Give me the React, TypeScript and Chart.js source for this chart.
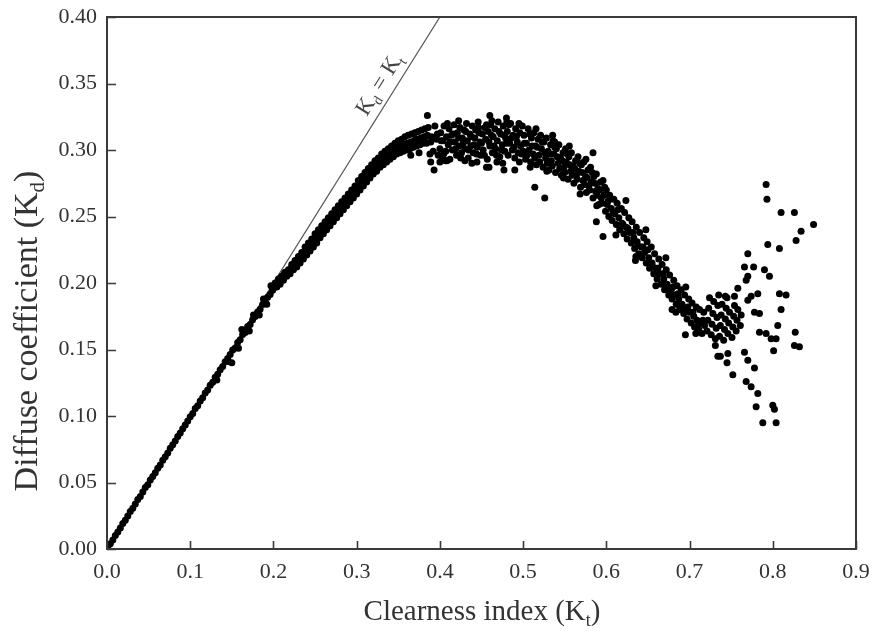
import React, { useEffect, useRef } from "react";
import { Chart, registerables } from "chart.js";

Chart.register(...registerables);

// ---------- data (Kt, Kd) ----------
const xTickValues = [0, 0.1, 0.2, 0.3, 0.4, 0.5, 0.6, 0.7, 0.8, 0.9];
const yTickValues = [0, 0.05, 0.1, 0.15, 0.2, 0.25, 0.3, 0.35, 0.4];
const identityLine: [number, number][] = [[0, 0], [0.4, 0.4]];

const bandLow: [number, number][] = [
  [0.001, 0.001], [0.004, 0.004], [0.007, 0.0068], [0.01, 0.0102], [0.013, 0.0128], [0.016, 0.0158],
  [0.019, 0.0192], [0.022, 0.0216], [0.025, 0.0248], [0.028, 0.0282], [0.031, 0.0306], [0.034, 0.0338],
  [0.037, 0.0372], [0.04, 0.0394], [0.043, 0.0428], [0.046, 0.0462], [0.049, 0.0484], [0.052, 0.0518],
  [0.055, 0.0546], [0.058, 0.0574], [0.061, 0.0608], [0.064, 0.0632], [0.067, 0.0668], [0.07, 0.0694],
  [0.073, 0.0722], [0.076, 0.0758], [0.079, 0.0784], [0.082, 0.0812], [0.085, 0.0846], [0.088, 0.0872],
  [0.091, 0.0904], [0.094, 0.0932], [0.097, 0.0962], [0.1, 0.0994], [0.103, 0.1018], [0.106, 0.1056],
  [0.109, 0.1078], [0.112, 0.1112], [0.115, 0.1138], [0.118, 0.1172], [0.121, 0.1196], [0.124, 0.1232],
  [0.127, 0.1254], [0.13, 0.1292], [0.133, 0.1314], [0.136, 0.1348], [0.139, 0.1372], [0.142, 0.1408],
  [0.145, 0.1432], [0.148, 0.1462], [0.151, 0.1496], [0.154, 0.1512], [0.157, 0.1552], [0.16, 0.1574],
  [0.163, 0.1612], [0.166, 0.1628], [0.169, 0.1672], [0.172, 0.1688], [0.175, 0.1724], [0.178, 0.1748],
  [0.181, 0.1782], [0.184, 0.1802], [0.187, 0.1838], [0.19, 0.1858], [0.193, 0.1892], [0.196, 0.1914],
  [0.199, 0.1946], [0.132, 0.127], [0.146, 0.141], [0.15, 0.14], [0.158, 0.151], [0.162, 0.165],
  [0.171, 0.164], [0.176, 0.176], [0.183, 0.176], [0.188, 0.188], [0.192, 0.184], [0.197, 0.198],
];

const bandRise: [number, number][] = [
  [0.2, 0.196], [0.202, 0.2], [0.204, 0.197], [0.206, 0.203], [0.208, 0.199], [0.21, 0.205],
  [0.212, 0.202], [0.214, 0.208], [0.216, 0.205], [0.218, 0.21], [0.22, 0.207], [0.222, 0.214],
  [0.224, 0.21], [0.226, 0.217], [0.228, 0.212], [0.23, 0.22], [0.232, 0.215], [0.234, 0.223],
  [0.236, 0.218], [0.238, 0.227], [0.24, 0.221], [0.242, 0.23], [0.244, 0.224], [0.246, 0.233],
  [0.248, 0.227], [0.25, 0.237], [0.252, 0.23], [0.254, 0.24], [0.256, 0.234], [0.258, 0.243],
  [0.26, 0.237], [0.262, 0.246], [0.264, 0.24], [0.266, 0.249], [0.268, 0.243], [0.27, 0.252],
  [0.272, 0.246], [0.274, 0.255], [0.276, 0.249], [0.278, 0.258], [0.28, 0.252], [0.282, 0.261],
  [0.284, 0.255], [0.286, 0.264], [0.288, 0.258], [0.29, 0.267], [0.292, 0.261], [0.294, 0.27],
  [0.296, 0.264], [0.298, 0.273], [0.3, 0.267], [0.302, 0.277], [0.304, 0.27], [0.306, 0.28],
  [0.308, 0.273], [0.31, 0.283], [0.312, 0.276], [0.314, 0.286], [0.316, 0.279], [0.318, 0.289],
  [0.32, 0.282], [0.322, 0.292], [0.324, 0.284], [0.326, 0.294], [0.328, 0.287], [0.33, 0.297],
  [0.332, 0.289], [0.334, 0.299], [0.336, 0.291], [0.338, 0.301], [0.34, 0.293], [0.342, 0.303],
  [0.344, 0.295], [0.346, 0.305], [0.348, 0.297], [0.35, 0.307], [0.352, 0.298], [0.354, 0.308],
  [0.356, 0.299], [0.358, 0.31], [0.36, 0.3], [0.362, 0.311], [0.364, 0.301], [0.366, 0.312],
  [0.368, 0.302], [0.37, 0.313], [0.372, 0.303], [0.374, 0.314], [0.376, 0.304], [0.378, 0.315],
  [0.38, 0.305], [0.382, 0.316], [0.384, 0.305], [0.386, 0.317], [0.388, 0.297], [0.39, 0.31],
  [0.392, 0.299], [0.394, 0.318], [0.396, 0.308], [0.398, 0.296], [0.247, 0.23], [0.263, 0.243],
  [0.279, 0.255], [0.295, 0.267], [0.311, 0.279], [0.327, 0.29], [0.343, 0.298], [0.357, 0.304],
  [0.371, 0.308], [0.383, 0.31], [0.365, 0.296], [0.375, 0.298],
];

const riseFill: [number, number][] = [
  [0.201, 0.198], [0.205, 0.201], [0.209, 0.204], [0.213, 0.207], [0.217, 0.208], [0.221, 0.211],
  [0.225, 0.214], [0.229, 0.217], [0.233, 0.219], [0.237, 0.223], [0.241, 0.226], [0.245, 0.229],
  [0.249, 0.232], [0.253, 0.235], [0.257, 0.239], [0.261, 0.242], [0.265, 0.245], [0.269, 0.248],
  [0.273, 0.251], [0.277, 0.254], [0.281, 0.257], [0.285, 0.26], [0.289, 0.263], [0.293, 0.266],
  [0.297, 0.269], [0.301, 0.272], [0.305, 0.275], [0.309, 0.278], [0.313, 0.281], [0.317, 0.284],
  [0.321, 0.287], [0.325, 0.289], [0.329, 0.292], [0.333, 0.294], [0.337, 0.296], [0.341, 0.298],
  [0.345, 0.3], [0.349, 0.302], [0.353, 0.303], [0.361, 0.305], [0.365, 0.306], [0.369, 0.307],
  [0.373, 0.308], [0.377, 0.309], [0.381, 0.31], [0.385, 0.311], [0.389, 0.306], [0.393, 0.309],
  [0.397, 0.312],
];

const bandPeak: [number, number][] = [
  [0.4, 0.301], [0.401, 0.313], [0.403, 0.295], [0.404, 0.307], [0.405, 0.318], [0.407, 0.299],
  [0.408, 0.31], [0.41, 0.304], [0.411, 0.316], [0.412, 0.293], [0.414, 0.311], [0.415, 0.3],
  [0.417, 0.319], [0.418, 0.306], [0.42, 0.296], [0.421, 0.313], [0.423, 0.303], [0.424, 0.317],
  [0.426, 0.298], [0.427, 0.309], [0.429, 0.315], [0.43, 0.301], [0.432, 0.32], [0.433, 0.307],
  [0.434, 0.294], [0.436, 0.312], [0.437, 0.303], [0.439, 0.318], [0.44, 0.298], [0.442, 0.309],
  [0.443, 0.315], [0.445, 0.302], [0.446, 0.321], [0.448, 0.306], [0.449, 0.296], [0.451, 0.312],
  [0.452, 0.3], [0.454, 0.317], [0.455, 0.308], [0.457, 0.293], [0.458, 0.314], [0.46, 0.303],
  [0.461, 0.319], [0.463, 0.298], [0.464, 0.31], [0.466, 0.316], [0.467, 0.301], [0.469, 0.307],
  [0.47, 0.321], [0.472, 0.295], [0.473, 0.312], [0.475, 0.304], [0.476, 0.318], [0.478, 0.299],
  [0.479, 0.309], [0.481, 0.314], [0.482, 0.296], [0.484, 0.305], [0.485, 0.32], [0.487, 0.3],
  [0.488, 0.311], [0.49, 0.294], [0.491, 0.316], [0.493, 0.306], [0.494, 0.298], [0.496, 0.313],
  [0.497, 0.303], [0.499, 0.318], [0.4065, 0.292], [0.4445, 0.291], [0.4755, 0.29], [0.4225, 0.322],
  [0.4955, 0.291],
];

const peakFill: [number, number][] = [
  [0.4015, 0.307], [0.4045, 0.297], [0.409, 0.32], [0.4125, 0.306], [0.416, 0.312], [0.419, 0.301],
  [0.4225, 0.309], [0.425, 0.294], [0.428, 0.305], [0.431, 0.314], [0.4345, 0.3], [0.438, 0.31],
  [0.441, 0.304], [0.444, 0.297], [0.447, 0.313], [0.45, 0.305], [0.4535, 0.296], [0.456, 0.319],
  [0.459, 0.306], [0.462, 0.311], [0.465, 0.303], [0.468, 0.296], [0.471, 0.314], [0.474, 0.3],
  [0.477, 0.311], [0.48, 0.305], [0.483, 0.319], [0.486, 0.309], [0.489, 0.302], [0.492, 0.31],
  [0.495, 0.32], [0.498, 0.297], [0.4085, 0.292], [0.4385, 0.29], [0.4685, 0.291], [0.4465, 0.317],
  [0.4625, 0.322], [0.4805, 0.321],
];

const bandFall: [number, number][] = [
  [0.5, 0.299], [0.501, 0.311], [0.503, 0.293], [0.504, 0.305], [0.506, 0.316], [0.507, 0.3],
  [0.509, 0.291], [0.51, 0.309], [0.512, 0.297], [0.513, 0.313], [0.515, 0.303], [0.516, 0.289],
  [0.518, 0.308], [0.519, 0.296], [0.521, 0.311], [0.522, 0.301], [0.524, 0.287], [0.525, 0.306],
  [0.527, 0.294], [0.528, 0.309], [0.53, 0.299], [0.531, 0.285], [0.533, 0.304], [0.534, 0.292],
  [0.536, 0.307], [0.537, 0.297], [0.539, 0.283], [0.54, 0.301], [0.542, 0.29], [0.543, 0.304],
  [0.545, 0.294], [0.546, 0.281], [0.548, 0.298], [0.549, 0.287], [0.551, 0.301], [0.552, 0.291],
  [0.554, 0.278], [0.555, 0.295], [0.557, 0.284], [0.558, 0.298], [0.56, 0.288], [0.561, 0.275],
  [0.563, 0.292], [0.564, 0.281], [0.566, 0.295], [0.567, 0.284], [0.569, 0.272], [0.57, 0.289],
  [0.572, 0.277], [0.573, 0.291], [0.575, 0.28], [0.576, 0.268], [0.578, 0.285], [0.579, 0.273],
  [0.581, 0.287], [0.582, 0.276], [0.584, 0.264], [0.585, 0.28], [0.587, 0.269], [0.588, 0.282],
  [0.59, 0.271], [0.591, 0.259], [0.593, 0.276], [0.594, 0.264], [0.596, 0.277], [0.597, 0.266],
  [0.599, 0.254],
];

const fallFill: [number, number][] = [
  [0.5015, 0.305], [0.5045, 0.296], [0.508, 0.312], [0.511, 0.303], [0.514, 0.294], [0.517, 0.302],
  [0.52, 0.291], [0.523, 0.306], [0.526, 0.298], [0.529, 0.29], [0.532, 0.297], [0.535, 0.288],
  [0.538, 0.302], [0.541, 0.295], [0.544, 0.286], [0.547, 0.292], [0.55, 0.283], [0.553, 0.297],
  [0.556, 0.289], [0.559, 0.281], [0.562, 0.286], [0.565, 0.278], [0.568, 0.29], [0.571, 0.283],
  [0.574, 0.274], [0.577, 0.279], [0.58, 0.27], [0.583, 0.283], [0.586, 0.275], [0.589, 0.266],
  [0.592, 0.27], [0.595, 0.26], [0.598, 0.272], [0.5085, 0.287], [0.5285, 0.284], [0.5485, 0.279],
  [0.5685, 0.267], [0.5885, 0.258], [0.5155, 0.316], [0.5355, 0.311], [0.5555, 0.303], [0.5755, 0.293],
];

const bandDrop: [number, number][] = [
  [0.6, 0.27], [0.601, 0.259], [0.603, 0.25], [0.604, 0.266], [0.606, 0.256], [0.607, 0.247],
  [0.609, 0.263], [0.61, 0.252], [0.612, 0.244], [0.613, 0.26], [0.615, 0.249], [0.616, 0.24],
  [0.618, 0.256], [0.619, 0.245], [0.621, 0.237], [0.622, 0.253], [0.624, 0.242], [0.625, 0.233],
  [0.627, 0.249], [0.628, 0.238], [0.63, 0.23], [0.631, 0.246], [0.633, 0.234], [0.634, 0.226],
  [0.636, 0.242], [0.637, 0.231], [0.639, 0.222], [0.64, 0.238], [0.642, 0.227], [0.643, 0.219],
  [0.645, 0.234], [0.646, 0.223], [0.648, 0.215], [0.649, 0.231], [0.651, 0.219], [0.652, 0.211],
  [0.654, 0.227], [0.655, 0.215], [0.657, 0.207], [0.658, 0.222], [0.66, 0.211], [0.661, 0.203],
  [0.663, 0.218], [0.664, 0.207], [0.666, 0.199], [0.667, 0.214], [0.669, 0.203], [0.67, 0.195],
  [0.672, 0.21], [0.673, 0.199], [0.675, 0.191], [0.676, 0.206], [0.678, 0.195], [0.679, 0.188],
  [0.681, 0.202], [0.682, 0.191], [0.684, 0.184], [0.685, 0.198], [0.687, 0.188], [0.688, 0.18],
  [0.69, 0.195], [0.691, 0.184], [0.693, 0.177], [0.694, 0.191], [0.696, 0.181], [0.697, 0.173],
  [0.699, 0.188], [0.7, 0.178], [0.702, 0.17], [0.703, 0.185], [0.705, 0.175], [0.706, 0.167],
  [0.708, 0.182], [0.709, 0.172], [0.711, 0.165], [0.712, 0.18], [0.714, 0.17], [0.715, 0.162],
  [0.717, 0.178], [0.718, 0.168],
];

const dropFill: [number, number][] = [
  [0.6025, 0.262], [0.608, 0.253], [0.614, 0.255], [0.62, 0.244], [0.626, 0.241], [0.632, 0.238],
  [0.638, 0.228], [0.644, 0.227], [0.65, 0.225], [0.656, 0.212], [0.662, 0.211], [0.668, 0.207],
  [0.674, 0.195], [0.68, 0.197], [0.686, 0.192], [0.692, 0.18], [0.698, 0.182], [0.704, 0.178],
  [0.71, 0.168], [0.716, 0.172], [0.6115, 0.236], [0.6355, 0.22], [0.6595, 0.198], [0.6835, 0.178],
  [0.7075, 0.162], [0.6235, 0.262], [0.6475, 0.24], [0.6715, 0.219], [0.6955, 0.197],
];

const bandTrough: [number, number][] = [
  [0.721, 0.164], [0.722, 0.172], [0.723, 0.181], [0.724, 0.189], [0.726, 0.161], [0.727, 0.169],
  [0.728, 0.177], [0.729, 0.186], [0.731, 0.158], [0.732, 0.166], [0.733, 0.174], [0.734, 0.183],
  [0.735, 0.191], [0.736, 0.16], [0.737, 0.168], [0.738, 0.176], [0.739, 0.184], [0.741, 0.157],
  [0.742, 0.165], [0.743, 0.173], [0.744, 0.181], [0.745, 0.189], [0.746, 0.162], [0.747, 0.17],
  [0.748, 0.178], [0.751, 0.159], [0.752, 0.167], [0.753, 0.175], [0.754, 0.183], [0.756, 0.164],
  [0.757, 0.172], [0.758, 0.18], [0.761, 0.168], [0.762, 0.176],
];

const outliers: [number, number][] = [
  [0.385, 0.326], [0.393, 0.285], [0.389, 0.291], [0.4, 0.291], [0.43, 0.292], [0.456, 0.287],
  [0.459, 0.287], [0.46, 0.326], [0.48, 0.324], [0.477, 0.285], [0.49, 0.285], [0.538, 0.306],
  [0.584, 0.298], [0.514, 0.272], [0.526, 0.264], [0.596, 0.235], [0.588, 0.246], [0.635, 0.217],
  [0.679, 0.18], [0.695, 0.161], [0.731, 0.153], [0.734, 0.145], [0.746, 0.147], [0.737, 0.145],
  [0.745, 0.14],
];

const tailPoints: [number, number][] = [
  [0.792, 0.274], [0.793, 0.263], [0.81, 0.253], [0.826, 0.253], [0.849, 0.244], [0.834, 0.239],
  [0.828, 0.232], [0.794, 0.229], [0.808, 0.226], [0.77, 0.222], [0.766, 0.212], [0.777, 0.212],
  [0.79, 0.21], [0.796, 0.205], [0.77, 0.205], [0.768, 0.202], [0.758, 0.196], [0.743, 0.19],
  [0.754, 0.19], [0.774, 0.19], [0.782, 0.192], [0.808, 0.192], [0.816, 0.191], [0.77, 0.187],
  [0.81, 0.18], [0.778, 0.178], [0.784, 0.177], [0.806, 0.168], [0.784, 0.163], [0.792, 0.162],
  [0.798, 0.158], [0.804, 0.158], [0.827, 0.163], [0.826, 0.153], [0.832, 0.152], [0.801, 0.149],
  [0.766, 0.148], [0.77, 0.142], [0.778, 0.136], [0.752, 0.131], [0.768, 0.126], [0.774, 0.122],
  [0.782, 0.117], [0.78, 0.107], [0.8, 0.108], [0.802, 0.105], [0.788, 0.095], [0.804, 0.095],
];

// ---------- drawing helpers ----------
const FONT = '"Liberation Serif", "Times New Roman", serif';
const TEXT_COLOR = "#333";

type Part = [string, boolean];

function drawRich(ctx: CanvasRenderingContext2D, parts: Part[], size: number, x: number, y: number) {
  const subSize = Math.round(size * 0.62);
  const widths: number[] = [];
  let total = 0;
  for (const [t, sub] of parts) {
    ctx.font = `${sub ? subSize : size}px ${FONT}`;
    const w = ctx.measureText(t).width;
    widths.push(w);
    total += w;
  }
  let cx = x - total / 2;
  ctx.textAlign = "left";
  ctx.textBaseline = "alphabetic";
  parts.forEach(([t, sub], i) => {
    ctx.font = `${sub ? subSize : size}px ${FONT}`;
    ctx.fillText(t, cx, sub ? y + size * 0.22 : y);
    cx += widths[i];
  });
}

const decorPlugin = {
  id: "decor",
  afterDraw(chart: any) {
    const ctx: CanvasRenderingContext2D = chart.ctx;
    const { left, right, top, bottom } = chart.chartArea;
    const xs = chart.scales.x;
    const ys = chart.scales.y;
    ctx.save();
    // frame
    ctx.strokeStyle = "#3a3a3a";
    ctx.lineWidth = 2;
    ctx.strokeRect(left, top, right - left, bottom - top);
    // inward ticks
    ctx.lineWidth = 1.6;
    ctx.beginPath();
    for (const v of yTickValues) {
      const py = Math.round(ys.getPixelForValue(v)) + 0.5;
      ctx.moveTo(left, py);
      ctx.lineTo(left + 9, py);
    }
    for (const v of xTickValues) {
      const px = Math.round(xs.getPixelForValue(v)) + 0.5;
      ctx.moveTo(px, bottom);
      ctx.lineTo(px, bottom - 8);
    }
    ctx.stroke();

    ctx.fillStyle = TEXT_COLOR;
    // x title
    drawRich(ctx, [["Clearness index (K", false], ["t", true], [")", false]], 29, 482, 620);
    // y title
    ctx.save();
    ctx.translate(37, 331);
    ctx.rotate(-Math.PI / 2);
    drawRich(ctx, [["Diffuse coefficient (K", false], ["d", true], [")", false]], 34, 0, 0);
    ctx.restore();

    // Kd = Kt label along identity line
    const [a, b] = identityLine;
    const x0 = xs.getPixelForValue(a[0]);
    const y0 = ys.getPixelForValue(a[1]);
    const x1 = xs.getPixelForValue(b[0]);
    const y1 = ys.getPixelForValue(b[1]);
    const ang = Math.atan2(y1 - y0, x1 - x0);
    ctx.save();
    ctx.translate(xs.getPixelForValue(0.343), ys.getPixelForValue(0.343));
    ctx.rotate(ang);
    ctx.fillStyle = "#444";
    drawRich(ctx, [["K", false], ["d", true], [" = K", false], ["t", true]], 23, 0, -9);
    ctx.restore();
    ctx.restore();
  },
};

export default function App() {
  const canvasRef = useRef<HTMLCanvasElement | null>(null);

  useEffect(() => {
    if (!canvasRef.current) return;
    const all = [
      ...bandLow, ...bandRise, ...riseFill, ...bandPeak, ...peakFill, ...bandFall, ...fallFill,
      ...bandDrop, ...dropFill, ...bandTrough, ...outliers, ...tailPoints,
    ];
    const chart = new Chart(canvasRef.current, {
      type: "scatter",
      data: {
        datasets: [
          {
            label: "Kd",
            data: all.map(([x, y]) => ({ x, y })),
            pointStyle: "circle",
            pointRadius: 3.5,
            pointBackgroundColor: "#000",
            pointBorderWidth: 0,
            showLine: false,
          },
          {
            label: "Kd = Kt",
            data: identityLine.map(([x, y]) => ({ x, y })),
            showLine: true,
            borderColor: "#555",
            borderWidth: 1.2,
            pointRadius: 0,
          },
        ],
      },
      options: {
        animation: false,
        responsive: true,
        maintainAspectRatio: false,
        layout: { padding: { top: 17, right: 21, left: 0, bottom: 0 } },
        plugins: { legend: { display: false }, tooltip: { enabled: false } },
        scales: {
          x: {
            type: "linear",
            min: 0,
            max: 0.9,
            afterFit: (s: any) => { s.height = 87; s.paddingLeft = 0; s.paddingRight = 0; },
            grid: { display: false, drawTicks: false },
            border: { display: false },
            ticks: {
              stepSize: 0.1,
              padding: 10,
              color: TEXT_COLOR,
              font: { family: FONT, size: 22 },
              maxRotation: 0,
              autoSkip: false,
              callback: (v: any) => Number(v).toFixed(1),
            },
          },
          y: {
            type: "linear",
            min: 0,
            max: 0.4,
            afterFit: (s: any) => { s.width = 107; s.paddingTop = 0; s.paddingBottom = 0; },
            grid: { display: false, drawTicks: false },
            border: { display: false },
            ticks: {
              stepSize: 0.05,
              padding: 10,
              color: TEXT_COLOR,
              font: { family: FONT, size: 22 },
              autoSkip: false,
              callback: (v: any) => Number(v).toFixed(2),
            },
          },
        },
      },
      plugins: [decorPlugin],
    });
    return () => chart.destroy();
  }, []);

  return (
    <div style={{ position: "fixed", left: 0, top: 0, width: 877, height: 636, background: "#fff" }}>
      <canvas ref={canvasRef} />
    </div>
  );
}
